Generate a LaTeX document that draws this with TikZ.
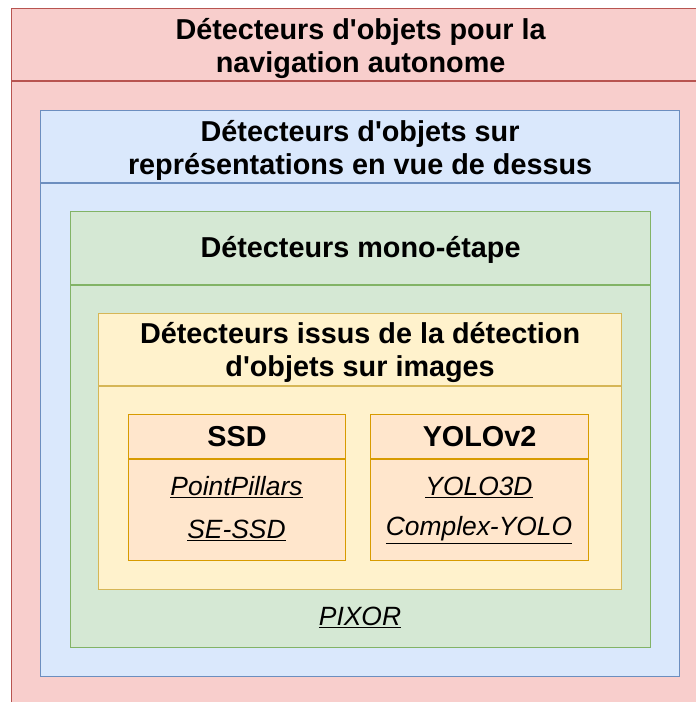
\documentclass[tikz,border=0pt]{standalone}
\usepackage{fontspec}
\setmainfont{Liberation Sans}
\usetikzlibrary{positioning}

\definecolor{redfill}{HTML}{F8CECC}
\definecolor{reddraw}{HTML}{B85450}
\definecolor{bluefill}{HTML}{DAE8FC}
\definecolor{bluedraw}{HTML}{6C8EBF}
\definecolor{greenfill}{HTML}{D5E8D4}
\definecolor{greendraw}{HTML}{82B366}
\definecolor{yellowfill}{HTML}{FFF2CC}
\definecolor{yellowdraw}{HTML}{D6B656}
\definecolor{orangefill}{HTML}{FFE6CC}
\definecolor{orangedraw}{HTML}{D79B00}

\newcommand{\qs}{\textquotesingle}

\tikzset{
  lane/.style={rectangle, draw, line width=1.2pt, inner sep=0pt, align=center,
    font=\fontsize{28.8}{33}\selectfont\bfseries},
  lanetitle/.style={inner sep=0pt, align=center, font=\fontsize{28.8}{33}\selectfont\bfseries},
  redlane/.style={lane, fill=redfill, draw=reddraw},
  bluelane/.style={lane, fill=bluefill, draw=bluedraw},
  greenlane/.style={lane, fill=greenfill, draw=greendraw},
  yellowlane/.style={lane, fill=yellowfill, draw=yellowdraw},
  orangelane/.style={lane, fill=orangefill, draw=orangedraw},
  item/.style={inner sep=0pt, font=\fontsize{26.4}{30}\selectfont\itshape}
}

\begin{document}
\begin{tikzpicture}[x=1pt, y=-1pt]
  \clip (0,0) rectangle (696,702);

  % Outer lane
  \node[redlane, anchor=north west, minimum width=698pt, minimum height=72pt] (navhead) at (11,8) {};
  \node[redlane, below=0pt of navhead, minimum width=698pt, minimum height=640pt] (navbody) {};
  \node[lanetitle] (navtitle) at ([yshift=-4pt]navhead.center)
    {D\'etecteurs d\qs objets pour la\\navigation autonome};

  % Bird's eye view
  \node[bluelane, anchor=north west, minimum width=639pt, minimum height=72pt] (bevhead) at (40,110) {};
  \node[bluelane, below=0pt of bevhead, minimum width=639pt, minimum height=493pt] (bevbody) {};
  \node[lanetitle] (bevtitle) at ([yshift=-3.5pt]bevhead.center)
    {D\'etecteurs d\qs objets sur\\repr\'esentations en vue de dessus};

  % Single stage
  \node[greenlane, anchor=north west, minimum width=580pt, minimum height=73pt] (monohead) at (70,211) {};
  \node[greenlane, below=0pt of monohead, minimum width=580pt, minimum height=362pt] (monobody) {};
  \node[lanetitle] (monotitle) at ([yshift=-2pt]monohead.center) {D\'etecteurs mono-\'etape};

  % From image detection
  \node[yellowlane, anchor=north west, minimum width=523pt, minimum height=72pt] (imghead) at (98,313) {};
  \node[yellowlane, below=0pt of imghead, minimum width=523pt, minimum height=203pt] (imgbody) {};
  \node[lanetitle] (imgtitle) at ([yshift=-2.5pt]imghead.center)
    {D\'etecteurs issus de la d\'etection\\d\qs objets sur images};

  % SSD and YOLOv2
  \node[orangelane, anchor=north west, minimum width=217pt, minimum height=44pt] (ssdhead) at (128,414) {SSD};
  \node[orangelane, below=0pt of ssdhead, minimum width=217pt, minimum height=101pt] (ssdbody) {};
  \node[orangelane, anchor=north west, minimum width=218pt, minimum height=44pt] (yolohead) at (370,414) {YOLOv2};
  \node[orangelane, below=0pt of yolohead, minimum width=218pt, minimum height=101pt] (yolobody) {};

  % Methods
  \node[item] (pointpillars) at (236.5,487) {\underline{PointPillars}};
  \node[item] (sessd) at (236.5,530) {\underline{SE-SSD}};
  \node[item] (yolo3d) at (479,487) {\underline{YOLO3D}};
  \node[item] (complexyolo) at (479,530) {\underline{Complex-YOLO}};
  \node[item] (pixor) at (360,617) {\underline{PIXOR}};
\end{tikzpicture}
\end{document}
